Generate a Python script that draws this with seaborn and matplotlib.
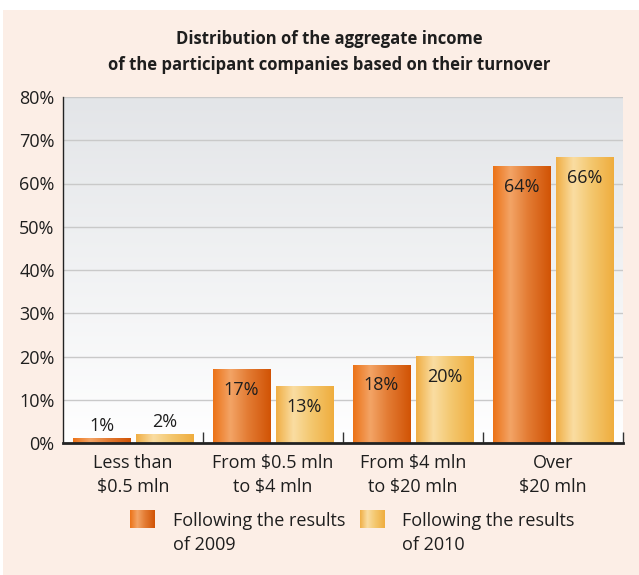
import numpy as np
import pandas as pd
import matplotlib
matplotlib.use("Agg")
import matplotlib.pyplot as plt
from matplotlib.colors import LinearSegmentedColormap
from matplotlib.patches import Rectangle
import seaborn as sns

# ---- data ----
categories = ["Less than\n$0.5 mln", "From $0.5 mln\nto $4 mln", "From $4 mln\nto $20 mln", "Over\n$20 mln"]
values_2009 = [1, 17, 18, 64]
values_2010 = [2, 13, 20, 66]
series_names = ["Following the results\nof 2009", "Following the results\nof 2010"]
yticks = [0, 10, 20, 30, 40, 50, 60, 70, 80]

df = pd.DataFrame({
    "cat": categories * 2,
    "val": values_2009 + values_2010,
    "series": [series_names[0]] * 4 + [series_names[1]] * 4,
})

sns.set_theme(style="white")
plt.rcParams["font.family"] = ["Open Sans", "DejaVu Sans"]
TXT = "#1e1e1e"
FS = 13

W, H = 639, 575
fig = plt.figure(figsize=(W / 100, H / 100), dpi=100)
fig.patch.set_facecolor("#FCEEE6")
# thin white margins (top and left) of the original panel
fig.patches.append(Rectangle((0, 1 - 10 / H), 1, 10 / H, transform=fig.transFigure,
                             facecolor="white", edgecolor="none", zorder=-10))
fig.patches.append(Rectangle((0, 0), 3 / W, 1, transform=fig.transFigure,
                             facecolor="white", edgecolor="none", zorder=-10))

ax = fig.add_axes([63 / W, 1 - 443 / H, 560 / W, (443 - 97) / H])

cmap09 = LinearSegmentedColormap.from_list("c09", [(0, "#EC7216"), (0.3, "#F3A466"), (0.6, "#E37C34"), (1, "#D15305")])
cmap10 = LinearSegmentedColormap.from_list("c10", [(0, "#F0AE44"), (0.3, "#FADDA2"), (0.6, "#F4C870"), (1, "#EFAD3E")])

sns.barplot(data=df, x="cat", y="val", hue="series", order=categories, hue_order=series_names,
            palette=["#E67A2A", "#F3C26A"], width=0.9, gap=0.08, saturation=1,
            legend=False, ax=ax, zorder=2)

ax.set_xlim(-0.5, 3.5)
ax.set_ylim(0, 80)

# plot background gradient
bg = LinearSegmentedColormap.from_list("bg", ["#FFFFFF", "#E3E5E8"])
ax.imshow(np.linspace(0, 1, 256).reshape(-1, 1)[::-1], cmap=bg, aspect="auto",
          extent=[0, 1, 0, 1], transform=ax.transAxes, zorder=-1)

# gradient fills for bars
grad = np.linspace(0, 1, 256).reshape(1, -1)
bars = list(ax.patches)
for i, p in enumerate(bars):
    x, w, h = p.get_x(), p.get_width(), p.get_height()
    cm = cmap09 if i < 4 else cmap10
    p.set_facecolor("none")
    p.set_edgecolor("none")
    ax.imshow(grad, cmap=cm, aspect="auto", extent=[x, x + w, 0, h], zorder=2.5)
    v = h
    cx = x + w / 2
    if v < 5:
        ax.text(cx, v + 0.8, f"{v:.0f}%", ha="center", va="bottom", fontsize=FS, color=TXT, zorder=4)
    else:
        ax.text(cx, v - 4.7, f"{v:.0f}%", ha="center", va="center", fontsize=FS, color=TXT, zorder=4)

ax.set_xlim(-0.5, 3.5)
ax.set_ylim(0, 80)

ax.set_yticks(yticks)
ax.set_yticklabels([f"{t}%" for t in yticks])
ax.yaxis.grid(True, color="#C9C9C9", lw=1)
ax.set_axisbelow(True)
ax.tick_params(axis="y", length=0, pad=6, labelsize=FS, labelcolor=TXT)
ax.tick_params(axis="x", which="major", length=0, pad=8, labelsize=FS, labelcolor=TXT)
for lab in ax.get_xticklabels():
    lab.set_linespacing(1.4)
ax.set_xticks([0.5, 1.5, 2.5, 3.5], minor=True)
ax.tick_params(axis="x", which="minor", direction="in", length=8, width=1, color="#333333", bottom=True)
ax.set_xlabel("")
ax.set_ylabel("")

for s in ["top", "right"]:
    ax.spines[s].set_visible(False)
ax.spines["left"].set_color("#222222")
ax.spines["left"].set_linewidth(1)
ax.spines["bottom"].set_color("#222222")
ax.spines["bottom"].set_linewidth(2)

fig.text(0.515, 1 - 52 / H, "Distribution of the aggregate income\nof the participant companies based on their turnover",
         ha="center", va="center", fontsize=12, fontweight="bold", color=TXT, linespacing=1.5)

# legend
for (px, tx, cm, name) in [(130, 173, cmap09, series_names[0]), (360, 402, cmap10, series_names[1])]:
    lax = fig.add_axes([px / W, 1 - 528 / H, 25 / W, 18 / H])
    lax.imshow(grad, cmap=cm, aspect="auto")
    lax.axis("off")
    fig.text(tx / W, 1 - 533 / H, name, ha="left", va="center", fontsize=FS, color=TXT, linespacing=1.45)

fig.savefig("out.png", dpi=100, facecolor=fig.get_facecolor())
